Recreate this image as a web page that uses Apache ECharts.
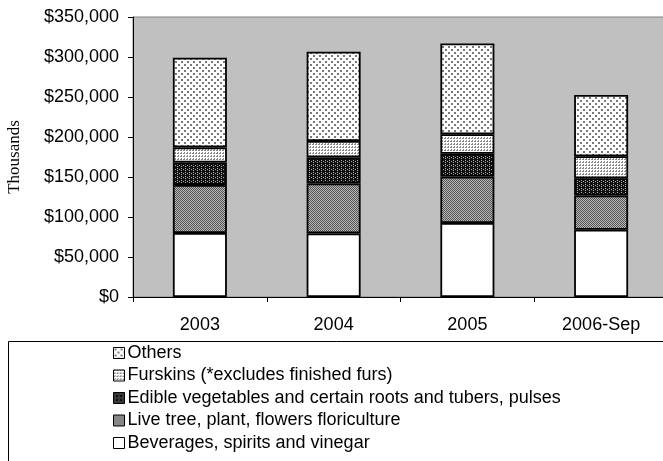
<!DOCTYPE html>
<html>
<head>
<meta charset="utf-8">
<script src="https://cdn.jsdelivr.net/npm/echarts@6/dist/echarts.min.js"></script>
<style>
    html, body { margin: 0; padding: 0; background: #fff; }
    #chart { width: 663px; height: 461px; }
</style>
</head>
<body>
<div id="chart"></div>
<script>
    const years = ['2003', '2004', '2005', '2006-Sep'];
    const beverages = [80000, 79500, 92500, 84000];
    const liveTree = [60000, 62500, 58000, 43000];
    const edibleVeg = [28000, 32500, 28500, 21500];
    const furskins = [19000, 20500, 24500, 27500];
    const others = [112000, 111500, 113500, 76500];

    const names = [
        'Beverages, spirits and vinegar',
        'Live tree, plant, flowers floriculture',
        'Edible vegetables and certain roots and tubers, pulses',
        'Furskins (*excludes finished furs)',
        'Others'
    ];

    // small tiled fills to imitate the hatch patterns
    function tile(size, bg, dots, dotColor) {
        let c = document.createElement('canvas');
        c.width = size;
        c.height = size;
        let ctx = c.getContext('2d');
        ctx.fillStyle = bg;
        ctx.fillRect(0, 0, size, size);
        ctx.fillStyle = dotColor;
        dots.forEach(d => ctx.fillRect(d[0], d[1], d[2], d[3]));
        return {image: c, repeat: 'repeat'};
    }

    const fills = [
        '#ffffff',
        tile(2, '#b8b8b8', [[0, 0, 1, 1], [1, 1, 1, 1]], '#555555'),
        tile(4, '#111111', [[1, 0, 1, 1], [1, 2, 1, 1], [3, 1, 1, 1]], '#b0b0b0'),
        tile(3, '#ffffff', [[0, 0, 2, 1], [1, 2, 1, 1]], '#8a8a8a'),
        tile(6, '#ffffff', [[1, 1, 2, 2], [4, 4, 2, 2]], '#7a7a7a')
    ];
    const values = [beverages, liveTree, edibleVeg, furskins, others];

    let series = [];
    for (let i = 0; i < names.length; i++) {
        series.push({
            name: names[i],
            type: 'bar',
            stack: 'total',
            barWidth: 54,
            itemStyle: {color: fills[i], borderColor: '#000', borderWidth: 1.8},
            emphasis: {disabled: true},
            data: values[i]
        });
    }

    let chart = echarts.init(document.getElementById('chart'));
    chart.setOption({
        animation: false,
        textStyle: {fontFamily: 'Liberation Sans, Arial, sans-serif', color: '#000'},
        grid: {
            left: 133, top: 17, right: -5, bottom: 164,
            outerBoundsMode: 'none',
            containLabel: false,
            show: true, backgroundColor: '#c0c0c0', borderColor: '#808080', borderWidth: 1
        },
        legend: {
            orient: 'vertical',
            left: 113, top: 344,
            icon: 'rect',
            itemWidth: 11, itemHeight: 11, itemGap: 4.5,
            padding: 0,
            itemStyle: {borderColor: '#000', borderWidth: 1},
            textStyle: {fontSize: 18, lineHeight: 18, color: '#000', padding: [0, 0, 0, -2]},
            data: names.slice().reverse(),
            selectedMode: false
        },
        graphic: [{
            type: 'rect',
            shape: {x: 8.5, y: 341.5, width: 700, height: 200},
            style: {fill: 'none', stroke: '#000', lineWidth: 1},
            silent: true
        }],
        xAxis: {
            type: 'category',
            data: years,
            axisLine: {lineStyle: {color: '#000', width: 1}},
            axisTick: {show: true, length: 5, lineStyle: {color: '#000'}},
            axisLabel: {fontSize: 18, color: '#000', margin: 19}
        },
        yAxis: {
            type: 'value',
            min: 0, max: 350000, interval: 50000,
            name: 'Thousands',
            nameLocation: 'middle',
            nameGap: 110,
            nameTextStyle: {fontFamily: 'Liberation Serif, Times New Roman, serif', fontSize: 17, color: '#000'},
            axisLine: {show: true, lineStyle: {color: '#000', width: 1}},
            axisTick: {show: true, length: 5, lineStyle: {color: '#000'}},
            splitLine: {show: false},
            axisLabel: {
                fontSize: 18, color: '#000', margin: 14,
                formatter: v => '$' + v.toLocaleString('en-US')
            }
        },
        series: series
    });
</script>
</body>
</html>
